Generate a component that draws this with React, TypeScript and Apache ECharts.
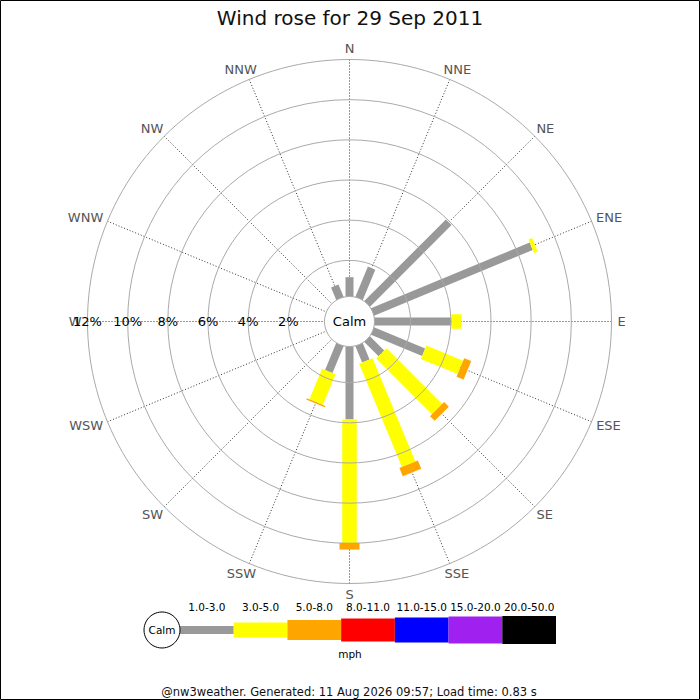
import { useEffect, useRef } from 'react';
import * as echarts from 'echarts';

const directions = ['N', 'NNE', 'NE', 'ENE', 'E', 'ESE', 'SE', 'SSE', 'S', 'SSW', 'SW', 'WSW', 'W', 'WNW', 'NW', 'NNW'];
// % of the day per direction, one array per speed band (mph)
const speed1to3 = [1.16, 1.83, 5.94, 8.75, 4.03, 2.95, 1.2, 1.08, 3.83, 1.65, 0, 0, 0, 0, 0, 0.87];
const speed3to5 = [0, 0, 0, 0.2, 0.5, 1.98, 3.92, 5.57, 6.15, 1.65, 0, 0, 0, 0, 0, 0];
const speed5to8 = [0, 0, 0, 0, 0, 0.38, 0.33, 0.44, 0.33, 0.07, 0, 0, 0, 0, 0, 0];
const bandLabels = ['1.0-3.0', '3.0-5.0', '5.0-8.0', '8.0-11.0', '11.0-15.0', '15.0-20.0', '20.0-50.0'];
const radiusMax = 12;
const radiusStep = 2;

const bandColors = ['#999999', '#ffff00', '#ffa500', '#ff0000', '#0000ff', '#a020f0', '#000000'];
const roseWidths = [8, 14.5, 20];
const legendHeights = [8, 15, 20, 23, 25, 27, 28];

const FONT = 'DejaVu Sans';
const CX = 349.5;
const CY = 321.5;

export default function App() {
  const chartRef = useRef<HTMLDivElement>(null);

  useEffect(() => {
    document.body.style.margin = '0';
    if (!chartRef.current) return;
    const chart = echarts.init(chartRef.current, null, { renderer: 'svg' });

    // text widths, so compass labels sit just outside the ring like the original
    const ctx = document.createElement('canvas').getContext('2d');
    let labelWidths = directions.map((d) => d.length * 9);
    if (ctx) {
      ctx.font = `13px "${FONT}"`;
      labelWidths = directions.map((d) => ctx.measureText(d).width);
    }

    const bands = [speed1to3, speed3to5, speed5to8];
    // angle axis starts at west (so the % labels sit there), clockwise
    const angleOf = (i: number) => (i * 22.5 + 90) % 360;

    const roseSeries = bands.map((band, k) => {
      const data: [number, number, number][] = [];
      directions.forEach((_, i) => {
        let start = 0;
        for (let j = 0; j < k; j++) start += bands[j][i];
        if (band[i] > 0) data.push([start + band[i], angleOf(i), start]);
      });
      return {
        type: 'custom',
        coordinateSystem: 'polar',
        encode: { radius: 0, angle: 1 },
        data,
        z: 3,
        renderItem: (_params: any, api: any) => {
          const end = api.value(0);
          const ang = api.value(1);
          const start = api.value(2);
          const a = api.coord([start, ang]);
          const b = api.coord([end, ang]);
          const dx = b[0] - a[0];
          const dy = b[1] - a[1];
          const len = Math.sqrt(dx * dx + dy * dy) || 1;
          const nx = (-dy / len) * (roseWidths[k] / 2);
          const ny = (dx / len) * (roseWidths[k] / 2);
          return {
            type: 'polygon',
            shape: {
              points: [
                [a[0] + nx, a[1] + ny],
                [b[0] + nx, b[1] + ny],
                [b[0] - nx, b[1] - ny],
                [a[0] - nx, a[1] - ny],
              ],
            },
            style: { fill: bandColors[k] },
          };
        },
      };
    });

    const compassLabels = {
      type: 'custom',
      coordinateSystem: 'polar',
      encode: { radius: 0, angle: 1 },
      data: directions.map((_, i) => [radiusMax, angleOf(i)]),
      z: 4,
      renderItem: (params: any, api: any) => {
        const i = params.dataIndex;
        const ang = api.value(1);
        const o = api.coord([0, ang]);
        const p = api.coord([api.value(0), ang]);
        const dx = p[0] - o[0];
        const dy = p[1] - o[1];
        const len = Math.sqrt(dx * dx + dy * dy) || 1;
        const ux = dx / len;
        const uy = dy / len;
        return {
          type: 'text',
          x: p[0] + ux * (6 + labelWidths[i] / 2),
          y: p[1] + uy * (6 + 4.8),
          style: {
            text: directions[i],
            fill: '#555',
            font: `13px "${FONT}"`,
            align: 'center',
            verticalAlign: 'middle',
          },
        };
      },
    };

    chart.setOption({
      animation: false,
      title: {
        text: 'Wind rose for 29 Sep 2011',
        left: 'center',
        top: 3,
        textStyle: { fontSize: 20, fontWeight: 'normal', color: '#111', fontFamily: FONT },
      },
      polar: { center: [CX, CY], radius: [21, 262] },
      angleAxis: {
        type: 'value',
        min: 0,
        max: 360,
        interval: 22.5,
        startAngle: 180,
        clockwise: true,
        axisLine: { show: false },
        axisTick: { show: false },
        axisLabel: { show: false },
        splitLine: { show: true, lineStyle: { type: [1, 2], color: '#333', width: 1 } },
      },
      radiusAxis: {
        type: 'value',
        min: 0,
        max: radiusMax,
        interval: radiusStep,
        z: 10,
        axisLine: { show: false },
        axisTick: { show: false },
        axisLabel: {
          color: '#000',
          fontSize: 13,
          fontFamily: FONT,
          margin: 0,
          align: 'center',
          verticalAlign: 'middle',
          formatter: (v: number) => (v === 0 ? '' : v + '%'),
        },
        splitLine: { show: true, lineStyle: { color: '#aaa', width: 1 } },
      },
      grid: { left: 180, width: 376, top: 615, height: 30 },
      xAxis: {
        type: 'category',
        data: bandLabels,
        position: 'top',
        axisLine: { show: false },
        axisTick: { show: false },
        axisLabel: { color: '#000', fontSize: 10.5, fontFamily: FONT, margin: 3, interval: 0 },
      },
      yAxis: { type: 'value', min: -1, max: 1, show: false },
      series: [
        ...roseSeries,
        compassLabels,
        {
          type: 'custom',
          coordinateSystem: 'cartesian2d',
          data: bandLabels.map((_, i) => [i, 0]),
          renderItem: (_params: any, api: any) => {
            const i = api.value(0);
            const c = api.coord([i, 0]);
            const w = api.size([1, 0])[0];
            const h = legendHeights[i];
            return {
              type: 'rect',
              shape: { x: c[0] - w / 2, y: c[1] - h / 2, width: w, height: h },
              style: { fill: bandColors[i] },
            };
          },
        },
      ],
      graphic: [
        {
          type: 'rect',
          z: 100,
          shape: { x: 0.5, y: 0.5, width: 699, height: 699 },
          style: { fill: 'none', stroke: '#000', lineWidth: 1 },
        },
        {
          type: 'circle',
          z: 100,
          shape: { cx: CX, cy: CY, r: 25 },
          style: { fill: '#fff', stroke: '#aaa', lineWidth: 1 },
        },
        {
          type: 'text',
          z: 101,
          x: CX,
          y: CY,
          style: { text: 'Calm', fill: '#000', font: `13px "${FONT}"`, align: 'center', verticalAlign: 'middle' },
        },
        {
          type: 'circle',
          z: 100,
          shape: { cx: 162, cy: 630, r: 18 },
          style: { fill: '#fff', stroke: '#000', lineWidth: 1 },
        },
        {
          type: 'text',
          z: 101,
          x: 162,
          y: 630,
          style: { text: 'Calm', fill: '#000', font: `10.5px "${FONT}"`, align: 'center', verticalAlign: 'middle' },
        },
        {
          type: 'text',
          z: 101,
          x: 350,
          y: 654,
          style: { text: 'mph', fill: '#000', font: `10.5px "${FONT}"`, align: 'center', verticalAlign: 'middle' },
        },
        {
          type: 'text',
          z: 101,
          x: 349,
          y: 692,
          style: {
            text: '@nw3weather. Generated: 11 Aug 2026 09:57; Load time: 0.83 s',
            fill: '#111',
            font: `11.5px "${FONT}"`,
            align: 'center',
            verticalAlign: 'middle',
          },
        },
      ],
    });

    return () => {
      chart.dispose();
    };
  }, []);

  return <div ref={chartRef} style={{ width: 700, height: 700 }} />;
}
